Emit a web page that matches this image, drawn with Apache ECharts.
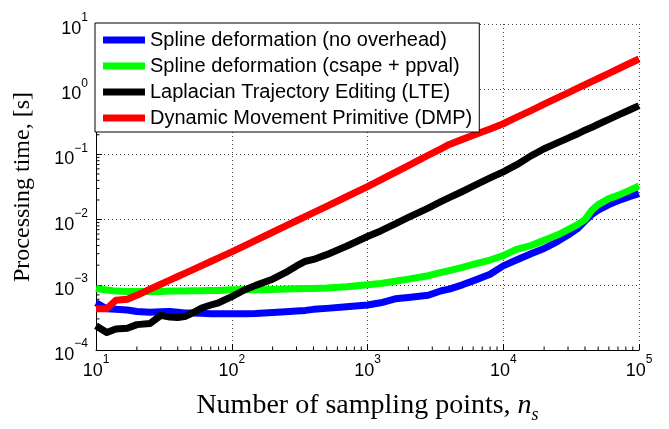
<!DOCTYPE html>
<html>
<head>
<meta charset="utf-8">
<script src="https://cdn.jsdelivr.net/npm/echarts@6/dist/echarts.min.js"></script>
<style>html,body{margin:0;padding:0;background:#fff}#c{width:669px;height:429px}</style>
</head>
<body>
<div id="c"></div>
<script>
// ---- data ----
const samplingPoints = [10, 12, 14, 17, 20, 25, 30, 35, 40, 45, 50, 60, 70, 80, 100, 125, 150, 200, 250, 300, 350, 400, 500, 700, 1000, 1250, 1600, 2000, 2800, 3500, 4000, 5000, 6000, 8000, 10000, 12500, 16000, 20000, 25000, 30000, 35000, 40000, 45000, 50000, 60000, 70000, 85000, 100000];
const splineNoOverhead = [5.3e-4, 4.3e-4, 4.2e-4, 4.1e-4, 3.9e-4, 3.8e-4, 3.85e-4, 3.9e-4, 3.8e-4, 3.7e-4, 3.7e-4, 3.65e-4, 3.6e-4, 3.6e-4, 3.6e-4, 3.6e-4, 3.62e-4, 3.75e-4, 3.85e-4, 3.95e-4, 4.05e-4, 4.2e-4, 4.35e-4, 4.6e-4, 4.9e-4, 5.3e-4, 6.1e-4, 6.4e-4, 6.9e-4, 8.1e-4, 8.6e-4, 1.0e-3, 1.15e-3, 1.45e-3, 1.95e-3, 2.4e-3, 3.0e-3, 3.6e-3, 4.6e-3, 5.8e-3, 7.2e-3, 9.5e-3, 1.2e-2, 1.4e-2, 1.7e-2, 1.95e-2, 2.25e-2, 2.5e-2];
const splineCsape = [8.8e-4, 8.3e-4, 8.0e-4, 7.9e-4, 7.9e-4, 7.9e-4, 7.9e-4, 8.0e-4, 8.0e-4, 8.0e-4, 8.1e-4, 8.1e-4, 8.2e-4, 8.2e-4, 8.4e-4, 8.5e-4, 8.4e-4, 8.5e-4, 8.6e-4, 8.7e-4, 8.75e-4, 8.8e-4, 8.9e-4, 9.3e-4, 1.0e-3, 1.05e-3, 1.13e-3, 1.22e-3, 1.38e-3, 1.55e-3, 1.65e-3, 1.85e-3, 2.05e-3, 2.4e-3, 2.8e-3, 3.5e-3, 4.0e-3, 4.8e-3, 5.8e-3, 7.0e-3, 8.3e-3, 1.0e-2, 1.4e-2, 1.7e-2, 2.1e-2, 2.35e-2, 2.8e-2, 3.3e-2];
const lte = [2.35e-4, 1.85e-4, 2.1e-4, 2.15e-4, 2.45e-4, 2.55e-4, 3.4e-4, 3.2e-4, 3.15e-4, 3.25e-4, 3.6e-4, 4.4e-4, 4.9e-4, 5.3e-4, 6.6e-4, 8.4e-4, 9.8e-4, 1.22e-3, 1.55e-3, 1.95e-3, 2.3e-3, 2.45e-3, 2.9e-3, 3.9e-3, 5.5e-3, 6.7e-3, 8.6e-3, 1.08e-2, 1.5e-2, 1.9e-2, 2.17e-2, 2.7e-2, 3.25e-2, 4.35e-2, 5.4e-2, 6.9e-2, 9.5e-2, 0.122, 0.15, 0.178, 0.205, 0.235, 0.26, 0.29, 0.345, 0.40, 0.48, 0.56];
const dmp = [4.3e-4, 4.3e-4, 5.8e-4, 6.0e-4, 6.9e-4, 8.6e-4, 1.02e-3, 1.18e-3, 1.34e-3, 1.5e-3, 1.65e-3, 1.97e-3, 2.28e-3, 2.59e-3, 3.2e-3, 4.0e-3, 4.8e-3, 6.4e-3, 8.0e-3, 9.6e-3, 1.12e-2, 1.28e-2, 1.6e-2, 2.24e-2, 3.2e-2, 4.07e-2, 5.3e-2, 6.7e-2, 9.7e-2, 0.123, 0.142, 0.170, 0.197, 0.246, 0.295, 0.37, 0.47, 0.59, 0.735, 0.88, 1.03, 1.17, 1.32, 1.46, 1.75, 2.04, 2.48, 2.9];
const seriesNames = ['Spline deformation (no overhead)', 'Spline deformation (csape + ppval)', 'Laplacian Trajectory Editing (LTE)', 'Dynamic Movement Primitive (DMP)'];
const seriesColors = ['#0000ff', '#00ff00', '#000000', '#ff0000'];
const xTickValues = [10, 100, 1000, 10000, 100000];
const yTickValues = [1e-4, 1e-3, 1e-2, 1e-1, 1, 10];
const minorMultipliers = [2, 3, 4, 5, 6, 7, 8, 9];
const xTitle = 'Number of sampling points, ';
const yTitle = 'Processing time, [s]';

const xMin = xTickValues[0], xMax = xTickValues[xTickValues.length - 1];
const yMin = yTickValues[0], yMax = yTickValues[yTickValues.length - 1];

function minorList(ticks) {
  const out = [];
  for (let i = 0; i < ticks.length - 1; i++) minorMultipliers.forEach(m => out.push(ticks[i] * m));
  return out;
}
const xMinor = minorList(xTickValues);
const yMinor = minorList(yTickValues);

function pow10Label(v) {
  const e = Math.round(Math.log10(v));
  return '{a|10}{b|' + (e < 0 ? '\u2212' + (-e) : e) + '}';
}
const labelRich = {
  a: { fontFamily: 'Liberation Sans', fontSize: 18, color: '#000', lineHeight: 24, padding: [8, 0, 0, 0], verticalAlign: 'top' },
  b: { fontFamily: 'Liberation Sans', fontSize: 12, color: '#000', lineHeight: 12, verticalAlign: 'top' }
};

const dataSets = [splineNoOverhead, splineCsape, lte, dmp];
const lineSeries = dataSets.map((arr, i) => ({
  name: seriesNames[i],
  type: 'line',
  showSymbol: false,
  symbol: 'none',
  data: samplingPoints.map((n, j) => [n, arr[j]]),
  lineStyle: { width: 7, color: seriesColors[i], join: 'round' },
  itemStyle: { color: seriesColors[i] },
  emphasis: { disabled: true },
  animation: false,
  z: 3
}));

const minorX = {
  type: 'custom', silent: true, animation: false, z: 2,
  data: xMinor.map(v => [v, yMin]),
  renderItem: (p, api) => {
    const pt = api.coord([api.value(0), yMin]);
    return { type: 'line', shape: { x1: pt[0], y1: pt[1], x2: pt[0], y2: pt[1] - 3.5 }, style: { stroke: '#000', lineWidth: 1 } };
  }
};
const minorY = {
  type: 'custom', silent: true, animation: false, z: 2,
  data: yMinor.map(v => [xMin, v]),
  renderItem: (p, api) => {
    const pt = api.coord([xMin, api.value(1)]);
    return { type: 'line', shape: { x1: pt[0], y1: pt[1], x2: pt[0] + 3.5, y2: pt[1] }, style: { stroke: '#000', lineWidth: 1 } };
  }
};

const chart = echarts.init(document.getElementById('c'), null, { renderer: 'canvas' });
chart.setOption({
  animation: false,
  backgroundColor: '#fff',
  grid: { left: 96, right: 30, top: 24, bottom: 67, containLabel: false },
  legend: {
    data: seriesNames,
    orient: 'vertical',
    left: 95, top: 23,
    backgroundColor: '#fff',
    borderColor: '#000', borderWidth: 1, borderRadius: 0,
    padding: [7, 7, 4, 8],
    itemGap: 6,
    itemWidth: 42, itemHeight: 7,
    icon: 'rect',
    selectedMode: false,
    textStyle: { fontFamily: 'Liberation Sans', fontSize: 20, color: '#000', lineHeight: 20 }
  },
  xAxis: {
    type: 'log', logBase: 10, min: xMin, max: xMax,
    axisLine: { show: true, onZero: false, lineStyle: { color: '#000', width: 1 } },
    axisTick: { show: true, inside: true, length: 6, lineStyle: { color: '#000' } },
    axisLabel: { margin: 4, fontSize: 18, formatter: pow10Label, rich: labelRich },
    splitLine: { show: true, showMinLine: false, lineStyle: { color: '#444', type: [1, 3], width: 1 } },
    name: '{t|' + xTitle + '}{i|n}{s|s}',
    nameLocation: 'middle',
    nameGap: 42,
    nameTextStyle: {
      rich: {
        t: { fontFamily: 'Liberation Serif', fontSize: 28, color: '#000', lineHeight: 30, verticalAlign: 'top' },
        i: { fontFamily: 'Liberation Serif', fontStyle: 'italic', fontSize: 28, color: '#000', lineHeight: 30, verticalAlign: 'top' },
        s: { fontFamily: 'Liberation Serif', fontStyle: 'italic', fontSize: 18, color: '#000', lineHeight: 18, padding: [14, 0, 0, 0], verticalAlign: 'top' }
      }
    }
  },
  yAxis: {
    type: 'log', logBase: 10, min: yMin, max: yMax,
    axisLine: { show: true, onZero: false, lineStyle: { color: '#000', width: 1 } },
    axisTick: { show: true, inside: true, length: 6, lineStyle: { color: '#000' } },
    axisLabel: { margin: 8, fontSize: 18, formatter: pow10Label, rich: labelRich },
    splitLine: { show: true, showMinLine: false, lineStyle: { color: '#444', type: [1, 3], width: 1 } },
    name: yTitle,
    nameLocation: 'middle',
    nameRotate: 90,
    nameGap: 61,
    nameTextStyle: { fontFamily: 'Liberation Serif', fontSize: 24, color: '#000' }
  },
  series: [minorX, minorY].concat(lineSeries)
});
</script>
</body>
</html>
